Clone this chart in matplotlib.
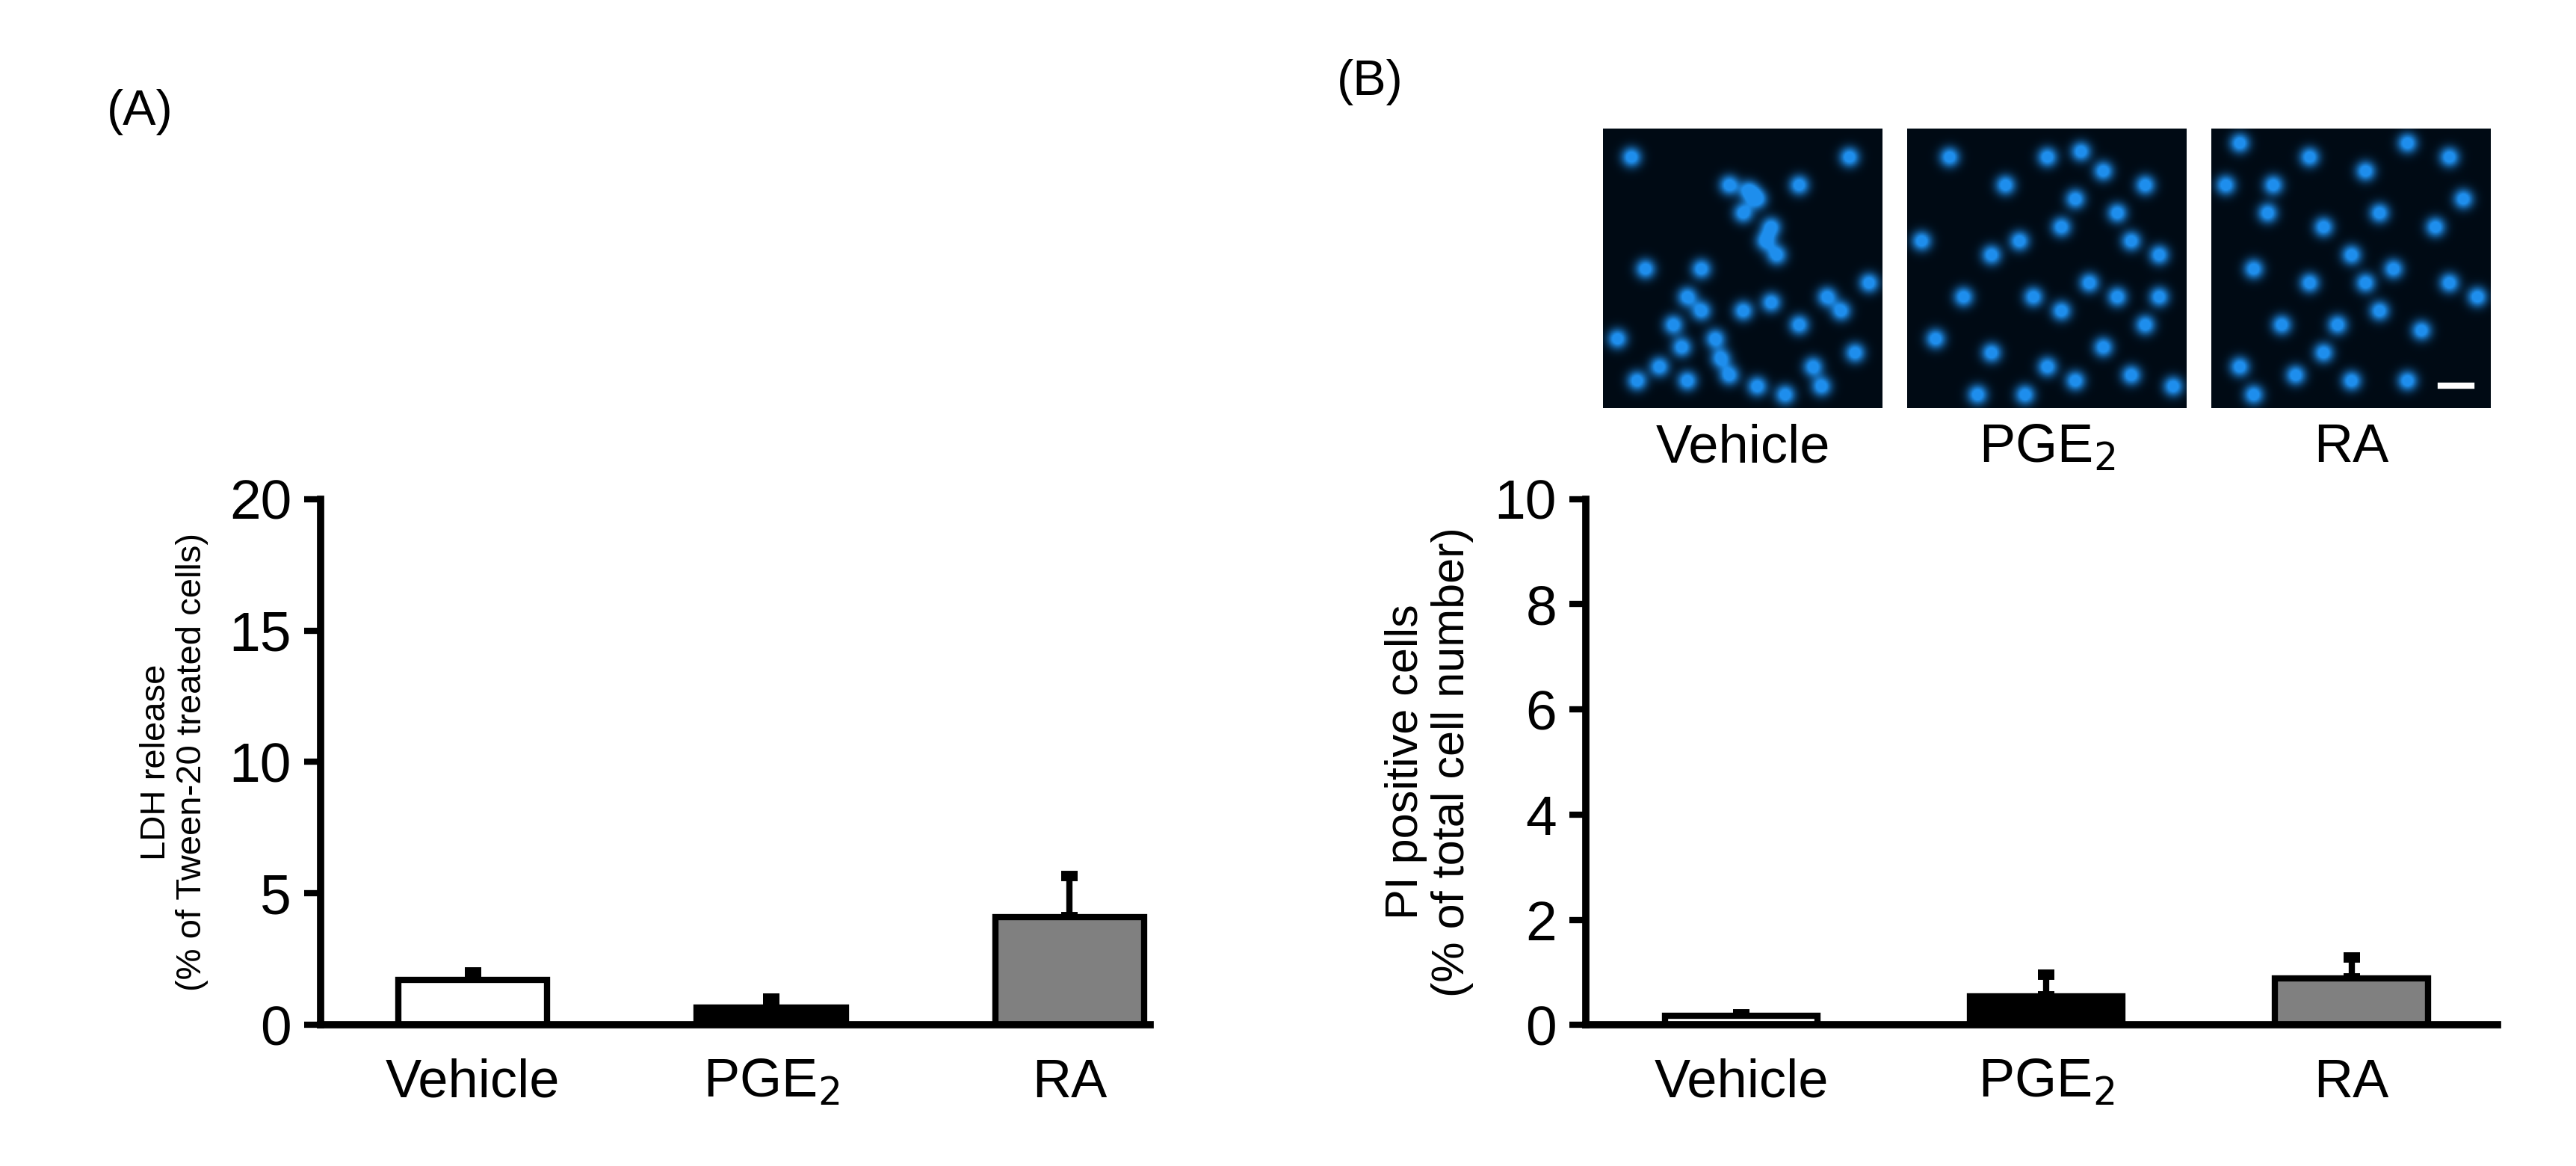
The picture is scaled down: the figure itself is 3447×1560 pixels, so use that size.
import numpy as np
import matplotlib
matplotlib.use("Agg")
import matplotlib.pyplot as plt

plt.rcParams['font.family'] = ['Liberation Sans', 'DejaVu Sans']

categories = ["Vehicle", "PGE$_2$", "RA"]
ldh_values = [1.7, 0.65, 4.1]
ldh_errors = [0.3, 0.35, 1.55]
pi_values = [0.18, 0.55, 0.88]
pi_errors = [0.02, 0.4, 0.4]
bar_colors = ["white", "black", "#808080"]
ldh_ticks = [0, 5, 10, 15, 20]
pi_ticks = [0, 2, 4, 6, 8, 10]

# nucleus positions (fraction of panel) for the three micrographs
nuclei_vehicle = [(0.1,0.1),(0.45,0.2),(0.5,0.3),(0.55,0.25),(0.6,0.35),(0.62,0.45),(0.3,0.6),(0.35,0.65),
                  (0.25,0.7),(0.4,0.75),(0.5,0.65),(0.6,0.62),(0.7,0.7),(0.8,0.6),(0.85,0.65),(0.2,0.85),
                  (0.3,0.9),(0.45,0.88),(0.55,0.92),(0.75,0.85),(0.9,0.8),(0.15,0.5),(0.05,0.75),(0.88,0.1),
                  (0.7,0.2),(0.35,0.5),(0.65,0.95),(0.95,0.55),(0.52,0.22),(0.58,0.4),(0.28,0.78),
                  (0.42,0.82),(0.12,0.9),(0.78,0.92)]
nuclei_pge = [(0.15,0.1),(0.5,0.1),(0.7,0.15),(0.85,0.2),(0.6,0.25),(0.75,0.3),(0.55,0.35),(0.4,0.4),
              (0.3,0.45),(0.8,0.4),(0.9,0.45),(0.2,0.6),(0.45,0.6),(0.55,0.65),(0.65,0.55),(0.75,0.6),
              (0.85,0.7),(0.1,0.75),(0.3,0.8),(0.5,0.85),(0.6,0.9),(0.8,0.88),(0.95,0.92),(0.25,0.95),
              (0.05,0.4),(0.7,0.78),(0.62,0.08),(0.35,0.2),(0.9,0.6),(0.42,0.95)]
nuclei_ra = [(0.1,0.05),(0.35,0.1),(0.55,0.15),(0.85,0.1),(0.2,0.3),(0.4,0.35),(0.6,0.3),(0.8,0.35),
             (0.9,0.25),(0.15,0.5),(0.35,0.55),(0.5,0.45),(0.65,0.5),(0.85,0.55),(0.25,0.7),(0.45,0.7),
             (0.6,0.65),(0.75,0.72),(0.95,0.6),(0.1,0.85),(0.3,0.88),(0.5,0.9),(0.7,0.9),(0.15,0.95),
             (0.55,0.55),(0.05,0.2),(0.7,0.05),(0.22,0.2),(0.4,0.8)]

def micrograph(pts, n=240):
    yy, xx = np.mgrid[0:n, 0:n] / n
    img = np.zeros((n, n))
    for (x, y) in pts:
        img += 1.3 * np.exp(-((xx - x)**2 + (yy - y)**2) / (2 * 0.024**2))
    img = np.clip(img, 0, 1)
    rgb = np.zeros((n, n, 3))
    rgb[..., 0] = 0.0 + 0.12 * img
    rgb[..., 1] = 0.04 + 0.52 * img
    rgb[..., 2] = 0.08 + 0.85 * img
    return rgb

fig = plt.figure(figsize=(17.24, 7.8), dpi=200)

def bar_panel(rect, vals, errs, ticks, ylabel, lsize, xlim):
    ax = fig.add_axes(rect)
    x = np.arange(len(vals))
    ax.bar(x, vals, width=0.5, color=bar_colors, edgecolor="black", linewidth=3, zorder=2)
    ax.errorbar(x, vals, yerr=[np.zeros(len(errs)), errs], fmt="none", ecolor="black",
                elinewidth=3, capsize=4, capthick=5, zorder=1)
    ax.set_xlim(*xlim)
    ax.set_ylim(ticks[0], ticks[-1])
    ax.set_yticks(ticks)
    ax.set_xticks(x)
    ax.set_xticklabels(categories, fontsize=26)
    ax.tick_params(axis="x", length=0, pad=16)
    ax.tick_params(axis="y", length=8, width=3, labelsize=27, direction="out", pad=6)
    for s in ["top", "right"]:
        ax.spines[s].set_visible(False)
    for s in ["left", "bottom"]:
        ax.spines[s].set_linewidth(3.5)
    ax.set_ylabel(ylabel, fontsize=lsize, labelpad=10, linespacing=1.1)
    return ax

bar_panel([0.1244, 0.121, 0.322, 0.451], ldh_values, ldh_errors, ldh_ticks,
          "LDH release\n(% of Tween-20 treated cells)", 17, (-0.51, 2.27))
bar_panel([0.6154, 0.121, 0.354, 0.451], pi_values, pi_errors, pi_ticks,
          "PI positive cells\n(% of total cell number)", 22, (-0.51, 2.48))

img_lefts = [2145, 2552, 2959]
for i, pts in enumerate([nuclei_vehicle, nuclei_pge, nuclei_ra]):
    iax = fig.add_axes([img_lefts[i] / 3448, 1 - 546 / 1560, 374 / 3448, 374 / 1560])
    iax.imshow(micrograph(pts), aspect="auto", extent=(0, 1, 1, 0))
    iax.set_xticks([]); iax.set_yticks([])
    for s in iax.spines.values():
        s.set_visible(False)
    if i == 2:
        iax.plot([0.82, 0.93], [0.92, 0.92], color="white", lw=3)
    fig.text((img_lefts[i] + 187) / 3448, 1 - 600 / 1560, categories[i], fontsize=26,
             ha="center", va="center")

fig.text(187 / 3448, 1 - 150 / 1560, "(A)", fontsize=24, ha="center", va="center")
fig.text(1833 / 3448, 1 - 110 / 1560, "(B)", fontsize=24, ha="center", va="center")

fig.savefig("out.png", dpi=200, facecolor="white")
